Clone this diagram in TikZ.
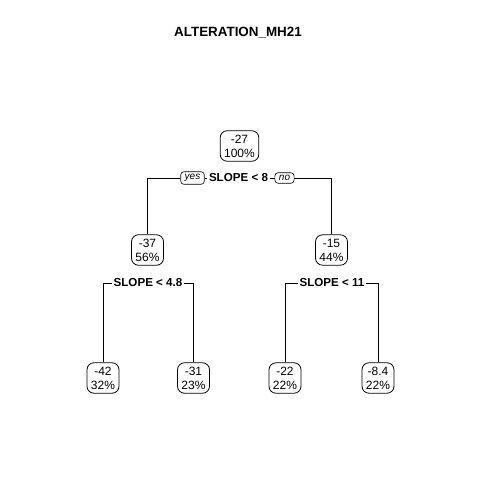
\documentclass[tikz,border=0pt]{standalone}
\usepackage{fontspec}
\setmainfont{Liberation Sans}
\begin{document}
\begin{tikzpicture}[x=1pt,y=-1pt,
  leaf/.style={draw, line width=0.8pt, rounded corners=7pt, align=center,
    font=\fontsize{12}{14}\selectfont, inner xsep=4pt, inner ysep=4pt},
  splitlab/.style={fill=white, inner xsep=1.5pt, inner ysep=1pt,
    font=\fontsize{11.6}{13}\selectfont\bfseries},
  yn/.style={draw, fill=white, line width=0.6pt, rounded corners=3pt,
    font=\fontsize{10}{11}\selectfont\itshape, inner xsep=4pt, inner ysep=2.5pt},
  conn/.style={line width=0.8pt}]
\useasboundingbox (0,0) rectangle (480,480);
\fill[white] (0,0) rectangle (480,480);
\node[font=\fontsize{13.4}{15}\selectfont\bfseries] (title) at (238,33) {ALTERATION\_MH21};
% nodes
\node[leaf] (n27) at (239.5,146) {-27\\100\%};
\node[leaf] (n37) at (147.5,250) {-37\\56\%};
\node[leaf] (n15) at (331.5,250) {-15\\44\%};
\node[leaf] (n42) at (103,378) {-42\\32\%};
\node[leaf] (n31) at (193.5,378) {-31\\23\%};
\node[leaf] (n22) at (285,378) {-22\\22\%};
\node[leaf] (n84) at (378,378) {-8.4\\22\%};
% split labels
\node[splitlab] (s1) at (238.5,178) {SLOPE < 8};
\node[yn] (yes) at (192.5,178) {yes};
\node[yn] (no) at (284.5,178) {no};
\node[splitlab] (s2) at (148,283) {SLOPE < 4.8};
\node[splitlab] (s3) at (332,283) {SLOPE < 11};
% connectors
\draw[conn] (n37.north) |- (yes.west);
\draw[conn] (yes.east) -- (s1.west);
\draw[conn] (s1.east) -- (no.west);
\draw[conn] (no.east) -| (n15.north);
\draw[conn] (n42.north) |- (s2.west);
\draw[conn] (s2.east) -| (n31.north);
\draw[conn] (n22.north) |- (s3.west);
\draw[conn] (s3.east) -| (n84.north);
\end{tikzpicture}
\end{document}
